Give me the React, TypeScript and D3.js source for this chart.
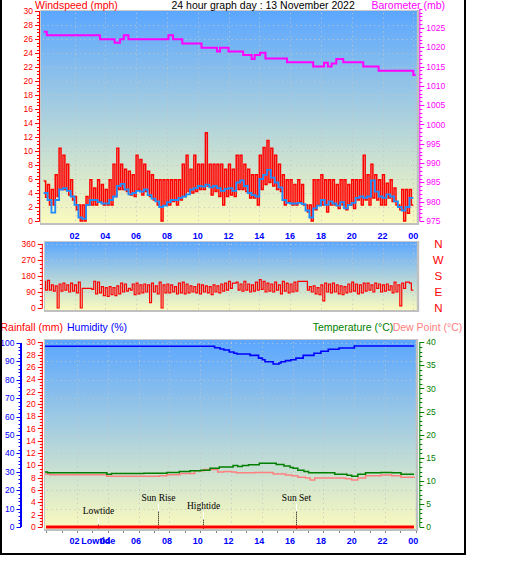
import React from "react";
import * as d3 from "d3";

// ---------- data ----------
const HOUR_TICKS = [2, 4, 6, 8, 10, 12, 14, 16, 18, 20, 22, 24];
const HOUR_LABELS = ["02", "04", "06", "08", "10", "12", "14", "16", "18", "20", "22", "00"];
const STEP = 0.25; // hours per sample

const gustHigh = [
  5.7, 5.2, 4.5, 6.6, 10.4, 9.4, 8.1, 5.9, 3.5, 2.3,
  2.3, 3.5, 5.9, 4.7, 5.9, 5.2, 4.5, 5.9, 8.1, 10.4,
  8.1, 7.4, 7.1, 6.6, 9.4, 8.8, 8.1, 7.1, 6.6, 5.9,
  5.9, 5.9, 5.9, 5.9, 5.9, 5.9, 8.1, 9.4, 7.4, 9.4,
  8.1, 8.1, 12.6, 8.1, 8.1, 8.1, 8.1, 7.4, 8.1, 7.4,
  9.4, 9.4, 8.1, 7.4, 6.6, 6.6, 9.4, 10.5, 11.5, 10.4,
  9.4, 8.1, 6.6, 5.9, 5.9, 5.2, 5.9, 5.2, 2.3, 2.3,
  5.9, 5.9, 6.6, 5.9, 5.9, 5.9, 5.2, 5.9, 5.9, 5.2,
  5.9, 5.9, 5.9, 9.4, 6.6, 8.1, 6.6, 5.9, 6.6, 5.4,
  5.9, 4.7, 2.3, 4.5, 4.5, 4.5,
];
const gustLow = [
  3.4, 2.3, 2.3, 3.5, 4.5, 4.5, 3.7, 3.0, 1.6, 0,
  0, 2.3, 2.3, 2.3, 2.8, 2.3, 2.3, 2.3, 3.5, 4.5,
  4.5, 4.2, 3.7, 3.5, 4.5, 3.7, 4.2, 3.5, 3.0, 2.3,
  0, 2.3, 2.3, 2.8, 2.3, 3.0, 3.5, 4.2, 4.0, 4.2,
  4.5, 4.5, 5.0, 3.7, 4.2, 3.5, 2.3, 3.5, 3.7, 3.5,
  4.5, 4.5, 4.2, 3.3, 3.3, 2.3, 4.5, 5.2, 5.5, 5.0,
  4.5, 4.2, 2.3, 2.8, 2.3, 2.3, 2.8, 2.3, 1.3, 0,
  1.6, 2.3, 2.3, 1.3, 2.3, 2.3, 1.8, 2.3, 1.6, 2.3,
  1.8, 3.0, 2.3, 3.0, 2.3, 3.3, 3.0, 2.3, 2.3, 3.3,
  2.8, 2.3, 1.6, 0, 1.1, 2.3,
];
const windAvg = [
  4.0, 3.0, 1.2, 3.0, 4.5, 4.7, 4.3, 3.5, 2.3, 0.5,
  0.3, 2.3, 3.0, 3.0, 2.7, 2.5, 2.5, 3.0, 3.5, 5.0,
  5.3, 4.5, 3.8, 4.0, 4.3, 4.2, 4.5, 3.7, 3.2, 2.8,
  2.0, 2.2, 2.7, 3.0, 3.0, 3.3, 3.5, 3.8, 4.5, 4.7,
  5.0, 4.9, 5.2, 4.8, 5.0, 4.7, 4.3, 4.6, 4.7, 4.3,
  5.5, 5.8, 5.0, 4.0, 3.7, 3.5, 6.0, 6.6, 7.3, 6.2,
  5.5, 4.8, 3.0, 2.6, 2.5, 2.5, 2.6, 2.4, 1.5, 0.5,
  1.8, 2.2, 3.0, 2.3, 2.8, 2.5, 2.2, 2.7, 1.8, 2.3,
  2.6, 3.3, 3.5, 3.3, 3.5, 5.8, 4.2, 3.5, 3.3, 3.8,
  3.5, 2.8, 2.0, 1.5, 2.0, 3.3,
];

const baroTimes = [0, 0.2, 3.65, 4.6, 4.95, 5.2, 5.5, 8.1, 8.4, 9.0, 10.25, 11.25, 11.45, 12.0, 12.95, 13.5, 13.7, 14.05, 14.4, 15.8, 17.5, 18.2, 18.45, 18.7, 19.0, 19.45, 20.75, 21.75, 24.0, 24.15];
const baroValues = [1024.0, 1023.1, 1022.1, 1021.2, 1022.1, 1023.1, 1022.1, 1023.1, 1022.1, 1021.0, 1019.9, 1018.9, 1019.9, 1018.9, 1018.0, 1017.0, 1018.0, 1018.6, 1017.1, 1016.1, 1015.0, 1016.0, 1015.0, 1015.8, 1017.0, 1016.1, 1015.0, 1013.9, 1012.8, 1012.8];

const dirHigh = [
  150, 155, 130, 125, 135, 140, 130, 140, 130, 145,
  110, 110, 110, 150, 145, 120, 115, 120, 115, 125,
  140, 135, 110, 135, 140, 130, 135, 130, 140, 125,
  145, 130, 135, 130, 120, 140, 145, 135, 125, 120,
  135, 130, 125, 120, 130, 125, 135, 140, 150, 140,
  145, 135, 150, 135, 130, 145, 160, 150, 140, 135,
  145, 130, 150, 140, 135, 145, 150, 150, 150, 120,
  125, 115, 130, 140, 135, 140, 130, 125, 120, 135,
  145, 135, 130, 140, 140, 130, 140, 135, 130, 135,
  125, 145, 130, 140, 145, 140,
];
const dirLow = [
  100, 100, 95, 0, 95, 100, 90, 95, 85, 0,
  110, 110, 105, 80, 85, 70, 65, 75, 70, 80,
  90, 95, 100, 75, 80, 85, 90, 30, 90, 80,
  0, 85, 85, 90, 80, 85, 80, 85, 90, 85,
  80, 90, 85, 75, 90, 85, 95, 100, 110, 140,
  100, 95, 100, 90, 95, 100, 105, 90, 95, 90,
  100, 80, 95, 85, 90, 95, 150, 150, 100, 90,
  80, 75, 40, 90, 85, 90, 80, 75, 85, 90,
  95, 80, 85, 95, 100, 90, 110, 90, 95, 100,
  85, 90, 12, 110, 145, 100,
];
const compassLabels = ["N", "W", "S", "E", "N"];
const compassDegrees = [360, 270, 180, 90, 0];

const humTimes = [0, 11.1, 11.45, 11.7, 12.05, 12.35, 12.55, 13.4, 13.95, 14.2, 14.37, 14.9, 15.28, 15.41, 15.7, 16.05, 16.38, 16.85, 17.55, 18.0, 18.48, 19.18, 20.17, 24.05];
const humValues = [98.2, 97.4, 96.7, 96.2, 95.1, 94.4, 94.0, 93.3, 91.8, 90.9, 89.8, 88.6, 89.1, 89.8, 90.4, 90.9, 91.8, 93.3, 94.4, 95.5, 96.6, 97.3, 98.4, 98.4];

const tempTimes = [0, 0.25, 4.1, 4.4, 6.5, 8.0, 8.8, 9.5, 10.2, 10.8, 11.4, 12.3, 12.6, 12.9, 13.3, 14.0, 15.1, 15.6, 16.0, 16.2, 16.5, 16.9, 17.2, 18.9, 19.7, 20.0, 20.4, 20.9, 21.9, 22.6, 23.2, 24.05];
const tempValues = [11.9, 11.75, 11.45, 11.6, 11.65, 11.8, 12.0, 12.2, 12.3, 12.7, 13.0, 13.3, 13.1, 13.3, 13.5, 13.8, 13.55, 13.2, 12.9, 12.7, 12.3, 12.0, 11.75, 11.45, 11.2, 11.0, 11.4, 11.75, 11.8, 11.75, 11.45, 11.45];

const dewTimes = [0, 0.4, 4.1, 7.5, 8.0, 8.85, 9.8, 10.4, 11.3, 11.7, 12.2, 12.5, 13.7, 14.4, 14.9, 15.7, 16.1, 16.5, 17.0, 17.3, 17.6, 18.7, 19.6, 20.0, 20.4, 20.9, 21.9, 22.6, 23.2, 24.05];
const dewValues = [11.46, 11.3, 11.0, 11.1, 11.3, 11.6, 12.18, 12.47, 11.9, 12.0, 11.9, 11.75, 11.8, 11.8, 11.46, 11.24, 11.1, 10.8, 10.6, 10.2, 10.6, 10.6, 10.45, 10.2, 10.6, 11.1, 11.24, 11.1, 10.8, 10.6];

const rainTimes = [0.15, 24.05];
const rainValues = [0, 0];

const markerLabels = ["Lowtide", "Sun Rise", "Hightide", "Sun Set"];
const markerTimes = [3.55, 7.42, 10.37, 16.4];
const markerLevels = [2.65, 4.76, 3.46, 4.76];

const windTicks = d3.range(0, 31, 2);
const baroTicks = [975, 980, 985, 990, 995, 1000, 1005, 1010, 1015, 1020, 1025];
const dirTicks = [0, 90, 180, 270, 360];
const rainTicks = d3.range(0, 31, 2);
const humTicks = d3.range(0, 101, 10);
const tempTicks = [0, 5, 10, 15, 20, 25, 30, 35, 40];

// ---------- helpers ----------
const SANS = "'Liberation Sans', Arial, sans-serif";
const hourX = d3.scaleLinear().domain([0, 24]).range([43.7, 413.3]);

type Pt = [number, number];

function zigzag(hi: number[], lo: number[]): Pt[] {
  const pts: Pt[] = [];
  hi.forEach((h, i) => {
    pts.push([i * STEP, h]);
    pts.push([i * STEP + STEP / 2, lo[i]]);
  });
  pts.push([hi.length * STEP, lo[lo.length - 1]]);
  return pts;
}
function series(t: number[], v: number[]): Pt[] {
  return t.map((tt, i) => [tt, v[i]] as Pt);
}
function stepLine(scaleY: d3.ScaleLinear<number, number>) {
  return d3
    .line<Pt>()
    .x((d) => hourX(d[0]))
    .y((d) => scaleY(d[1]))
    .curve(d3.curveStepAfter);
}

function VAxis(props: {
  scale: d3.ScaleLinear<number, number>;
  x: number;
  from: number;
  to: number;
  majors: number[];
  minorStep: number;
  color: string;
  dir: number;
  lineW?: number;
  labels?: string[];
  fontSize?: number;
}) {
  const { scale, x, from, to, majors, minorStep, color, dir, lineW = 1, labels, fontSize = 8.5 } = props;
  const minors = d3.range(from, to + 1e-6, minorStep);
  return (
    <g>
      <line x1={x} x2={x} y1={scale(from)} y2={scale(to)} stroke={color} strokeWidth={lineW} />
      {minors.map((v, i) => (
        <line key={"m" + i} x1={x} x2={x + dir * 2.5} y1={Math.round(scale(v)) + 0.5} y2={Math.round(scale(v)) + 0.5} stroke={color} strokeWidth={1} />
      ))}
      {majors.map((v, i) => (
        <line key={"M" + i} x1={x} x2={x + dir * 4.5} y1={Math.round(scale(v)) + 0.5} y2={Math.round(scale(v)) + 0.5} stroke={color} strokeWidth={1} />
      ))}
      {majors.map((v, i) => (
        <text
          key={"t" + i}
          x={x + dir * 6.5}
          y={scale(v)}
          dy="0.36em"
          textAnchor={dir < 0 ? "end" : "start"}
          fill={color}
          fontSize={fontSize}
          fontFamily={SANS}
        >
          {labels ? labels[i] : String(v)}
        </text>
      ))}
    </g>
  );
}

function Panel(props: { x0: number; x1: number; y0: number; y1: number }) {
  const { x0, x1, y0, y1 } = props;
  return <rect x={x0} y={y0} width={x1 - x0} height={y1 - y0} fill="url(#skyGrad)" />;
}
function PanelFrame(props: { x0: number; x1: number; y0: number; y1: number }) {
  const { x0, x1, y0, y1 } = props;
  return (
    <g>
      <line x1={x0} x2={x1} y1={y0 + 0.5} y2={y0 + 0.5} stroke="#c8c8c8" strokeWidth={1} />
      <line x1={x0 + 0.5} x2={x0 + 0.5} y1={y0} y2={y1} stroke="#c8c8c8" strokeWidth={1} />
      <line x1={x1 + 1} x2={x1 + 1} y1={y0} y2={y1 + 2} stroke="#c0c0c0" strokeWidth={2.4} />
      <line x1={x0} x2={x1 + 2} y1={y1 + 1} y2={y1 + 1} stroke="#c0c0c0" strokeWidth={2.2} />
    </g>
  );
}
function Grid(props: { x0: number; x1: number; y0: number; y1: number; ys: number[]; xOff?: number }) {
  const { x0, x1, y0, y1, ys, xOff = 0 } = props;
  return (
    <g stroke="#c4c4c4" strokeWidth={1} strokeDasharray="1 3.6">
      {ys.map((y, i) => (
        <line key={"h" + i} x1={x0 + 3} x2={x1} y1={Math.round(y) + 0.5} y2={Math.round(y) + 0.5} />
      ))}
      {HOUR_TICKS.map((h, i) => (
        <line key={"v" + i} x1={Math.round(hourX(h) + xOff) + 0.5} x2={Math.round(hourX(h) + xOff) + 0.5} y1={y0 + 3} y2={y1} />
      ))}
    </g>
  );
}

export default function App() {
  const top = { x0: 40, x1: 417, y0: 10, y1: 223 };
  const mid = { x0: 44, x1: 417, y0: 241, y1: 310 };
  const bot = { x0: 44, x1: 416, y0: 339, y1: 529 };

  const windY = d3.scaleLinear().domain([0, 30]).range([221, 11]);
  const baroY = d3.scaleLinear().domain([975, 1030]).range([221, 8.7]);
  const dirY = d3.scaleLinear().domain([0, 360]).range([308, 244]);
  const rainY = d3.scaleLinear().domain([0, 30]).range([527, 342.3]);
  const humY = d3.scaleLinear().domain([0, 100]).range([527, 343]);
  const tempY = d3.scaleLinear().domain([0, 40]).range([527, 342.3]);

  const speedPts: Pt[] = windAvg.map((v, i) => [i * STEP, v] as Pt);
  speedPts.push([windAvg.length * STEP, windAvg[windAvg.length - 1]]);

  const gustPath = stepLine(windY)(zigzag(gustHigh, gustLow)) || "";
  const speedPath = stepLine(windY)(speedPts) || "";
  const baroPath = stepLine(baroY)(series(baroTimes, baroValues)) || "";
  const dirPath = stepLine(dirY)(zigzag(dirHigh, dirLow)) || "";
  const humPath = stepLine(humY)(series(humTimes, humValues)) || "";
  const tempPath = stepLine(tempY)(series(tempTimes, tempValues)) || "";
  const dewPath = stepLine(tempY)(series(dewTimes, dewValues)) || "";
  const rainPath = stepLine(rainY)(series(rainTimes, rainValues)) || "";

  const titleSize = 10.5;

  return (
    <>
      <style>{`body{margin:0;background:#fff}`}</style>
      <svg width={529} height={563} style={{ display: "block" }} fontFamily={SANS}>
        <defs>
          <linearGradient id="skyGrad" x1="0" y1="0" x2="0" y2="1">
            <stop offset="0" stopColor="#5aa6ff" />
            <stop offset="1" stopColor="#fafabe" />
          </linearGradient>
          <clipPath id="clipTop">
            <rect x={top.x0} y={top.y0} width={top.x1 - top.x0} height={top.y1 - top.y0} />
          </clipPath>
          <clipPath id="clipMid">
            <rect x={mid.x0} y={mid.y0} width={mid.x1 - mid.x0} height={mid.y1 - mid.y0} />
          </clipPath>
          <clipPath id="clipBot">
            <rect x={bot.x0} y={bot.y0} width={bot.x1 - bot.x0} height={bot.y1 - bot.y0} />
          </clipPath>
        </defs>
        <rect x={0} y={0} width={529} height={563} fill="#fff" />

        {/* ---------- top panel: wind + barometer ---------- */}
        <Panel {...top} />
        <Grid {...top} ys={windTicks.filter((t) => t > 0 && t < 30).map((t) => windY(t))} />
        <g clipPath="url(#clipTop)">
          <path d={gustPath} fill="none" stroke="#ff0000" strokeWidth={1.5} />
          <path d={speedPath} fill="none" stroke="#1e8cff" strokeWidth={1.8} />
          <path d={baroPath} fill="none" stroke="#ff00ff" strokeWidth={2} />
        </g>
        <PanelFrame {...top} />
        <VAxis scale={windY} x={39.5} from={0} to={30} majors={windTicks} minorStep={0.5} color="#ff0000" dir={-1} />
        <VAxis scale={baroY} x={419.8} from={975} to={1030} majors={baroTicks} minorStep={1} color="#ff00ff" dir={1} />
        <text x={35} y={8.5} fill="#ff0000" fontSize={titleSize}>Windspeed (mph)</text>
        <text x={171.5} y={8.5} fill="#000" fontSize={titleSize}>24 hour graph day : 13 November 2022</text>
        <text x={371.5} y={8.5} fill="#ff00ff" fontSize={titleSize}>Barometer (mb)</text>
        {HOUR_TICKS.map((h, i) => (
          <text key={"xt" + i} x={hourX(h)} y={239} textAnchor="middle" fill="#0000ff" fontSize={9} fontWeight="bold">
            {HOUR_LABELS[i]}
          </text>
        ))}

        {/* ---------- middle panel: wind direction ---------- */}
        <Panel {...mid} />
        <Grid {...mid} ys={dirTicks.filter((t) => t > 0).map((t) => dirY(t))} />
        <g clipPath="url(#clipMid)">
          <path d={dirPath} fill="none" stroke="#ff0000" strokeWidth={1.2} />
        </g>
        <PanelFrame {...mid} />
        <VAxis scale={dirY} x={42.3} from={0} to={360} majors={dirTicks} minorStep={22.5} color="#ff0000" dir={-1} />
        {compassLabels.map((c, i) => (
          <text key={"c" + i} x={438.3} y={dirY(compassDegrees[i])} dy="0.38em" textAnchor="middle" fill="#ff0000" fontSize={11.5}>
            {c}
          </text>
        ))}

        {/* ---------- bottom panel: rain, humidity, temperature ---------- */}
        <text x={0.5} y={331} fill="#ff0000" fontSize={titleSize}>Rainfall (mm)</text>
        <text x={67} y={331} fill="#0000ff" fontSize={titleSize}>Humidity (%)</text>
        <text x={312.7} y={331} fill="#008000" fontSize={titleSize}>Temperature (°C)</text>
        <text x={392.7} y={331} fill="#ff8080" fontSize={titleSize}>Dew Point (°C)</text>
        <Panel {...bot} />
        <Grid {...bot} ys={humTicks.filter((t) => t > 0).map((t) => humY(t))} xOff={2.5} />
        {markerLabels.map((lab, i) => {
          const mx = Math.round(hourX(markerTimes[i])) + 0.5;
          const ly = rainY(markerLevels[i]);
          return (
            <g key={"mk" + i}>
              <line x1={mx} x2={mx} y1={ly + 6} y2={ly + 14} stroke="#ffffff" strokeWidth={1} />
              <line x1={mx} x2={mx} y1={ly + 14} y2={bot.y1} stroke="#000" strokeWidth={1} strokeDasharray="1 1" />
              <text x={mx} y={ly} dy="0.35em" textAnchor="middle" fill="#000" fontSize={9.5} fontFamily="'Liberation Serif', 'Times New Roman', serif">
                {lab}
              </text>
            </g>
          );
        })}
        <g clipPath="url(#clipBot)">
          <path d={humPath} fill="none" stroke="#0000ff" strokeWidth={1.6} />
          <path d={dewPath} fill="none" stroke="#ff8080" strokeWidth={1.5} />
          <path d={tempPath} fill="none" stroke="#008000" strokeWidth={1.5} />
          <path d={rainPath} fill="none" stroke="#ff0000" strokeWidth={3} />
        </g>
        <PanelFrame {...bot} />
        {d3.range(0, 25).map((h) => (
          <line key={"bt" + h} x1={Math.round(hourX(h) + 2.5) + 0.5} x2={Math.round(hourX(h) + 2.5) + 0.5} y1={531} y2={533} stroke="#808080" strokeWidth={1} />
        ))}
        <VAxis scale={humY} x={21} from={0} to={100} majors={humTicks} minorStep={2} color="#0000ff" dir={-1} lineW={2} />
        <VAxis scale={rainY} x={42.3} from={0} to={30} majors={rainTicks} minorStep={0.5} color="#ff0000" dir={-1} />
        <VAxis scale={tempY} x={419.8} from={0} to={40} majors={tempTicks} minorStep={1} color="#008000" dir={1} />
        <text x={hourX(markerTimes[0])} y={544} textAnchor="middle" fill="#0000ff" fontSize={9} fontWeight="bold">
          {markerLabels[0]}
        </text>
        {HOUR_TICKS.map((h, i) => (
          <text key={"xb" + i} x={hourX(h)} y={544} textAnchor="middle" fill="#0000ff" fontSize={9} fontWeight="bold">
            {HOUR_LABELS[i]}
          </text>
        ))}

        {/* ---------- outer frame ---------- */}
        <line x1={1} x2={1} y1={0} y2={555} stroke="#000" strokeWidth={2} />
        <line x1={465} x2={465} y1={0} y2={555} stroke="#000" strokeWidth={2} />
        <line x1={0} x2={466} y1={554} y2={554} stroke="#000" strokeWidth={2} />
      </svg>
    </>
  );
}
